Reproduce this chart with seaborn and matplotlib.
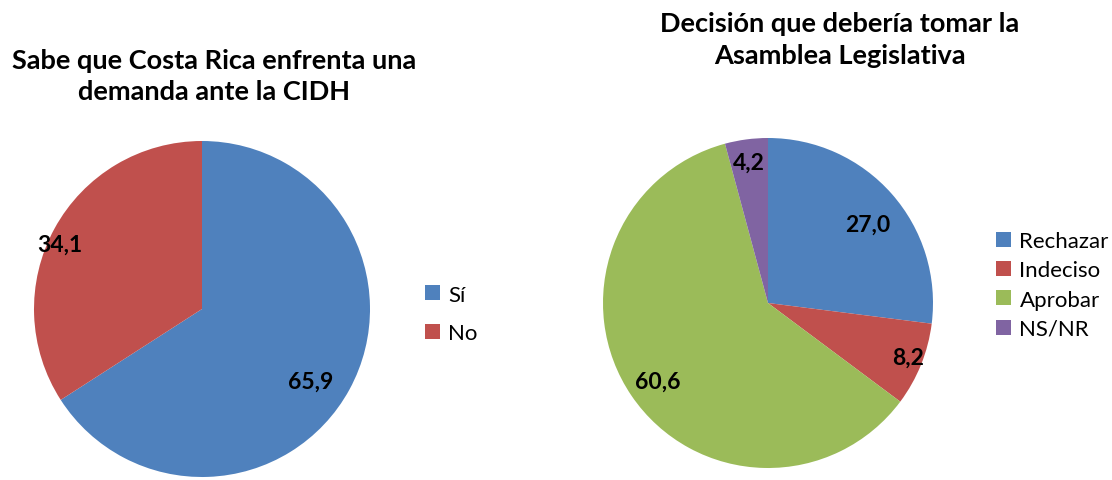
import numpy as np
import seaborn as sns
import matplotlib.pyplot as plt

# Data
left_title = 'Sabe que Costa Rica enfrenta una\ndemanda ante la CIDH'
left_labels = ['Sí', 'No']
left_values = [65.9, 34.1]

right_title = 'Decisión que debería tomar la\nAsamblea Legislativa'
right_labels = ['Rechazar', 'Indeciso', 'Aprobar', 'NS/NR']
right_values = [27.0, 8.2, 60.6, 4.2]

sns.set_theme(style='white')
plt.rcParams['font.family'] = ['Lato', 'DejaVu Sans']
plt.rcParams['text.color'] = 'black'

palette = ['#4F81BD', '#C0504D', '#9BBB59', '#8064A2']

W, H = 1112, 481
fig = plt.figure(figsize=(W / 100, H / 100), dpi=100)


def pie_axes(cx, cy, r):
    # axes placed in pixel terms so the pie lands where it should
    return fig.add_axes([(cx - r) / W, (H - cy - r) / H, 2 * r / W, 2 * r / H])


def draw_pie(ax, values, colors, label_dist, label_shift):
    wedges, _ = ax.pie(values, colors=colors, startangle=90, counterclock=False,
                       radius=1, wedgeprops=dict(linewidth=0))
    for w, v, d, s in zip(wedges, values, label_dist, label_shift):
        mid = np.deg2rad((w.theta1 + w.theta2) / 2 + s)
        ax.text(d * np.cos(mid), d * np.sin(mid), f'{v:.1f}'.replace('.', ','),
                ha='center', va='center', fontsize=16.5, fontweight='bold', color='black')
    ax.set_xlim(-1, 1)
    ax.set_ylim(-1, 1)
    ax.set_aspect('equal')
    ax.axis('off')
    return wedges


# Left pie
ax1 = pie_axes(202, 310, 168)
w1 = draw_pie(ax1, left_values, palette[:2], [0.78, 0.93], [-5, 4])
fig.text(214 / W, 1 - 77 / H, left_title, ha='center', va='center',
         fontsize=19.5, fontweight='bold', linespacing=1.35)
fig.legend(w1, left_labels, loc='center left', bbox_to_anchor=(414 / W, 1 - 315 / H),
           frameon=False, fontsize=16, handlelength=0.65, handleheight=0.65,
           handletextpad=0.4, labelspacing=0.85, borderpad=0)

# Right pie
ax2 = pie_axes(768, 304, 165)
w2 = draw_pie(ax2, right_values, palette, [0.77, 0.91, 0.82, 0.86], [-3, 1, 1, 0])
fig.text(840 / W, 1 - 40 / H, right_title, ha='center', va='center',
         fontsize=19.5, fontweight='bold', linespacing=1.35)
fig.legend(w2, right_labels, loc='center left', bbox_to_anchor=(985 / W, 1 - 286 / H),
           frameon=False, fontsize=16, handlelength=0.65, handleheight=0.65,
           handletextpad=0.4, labelspacing=0.42, borderpad=0)

fig.savefig('out.png', dpi=100, facecolor='white')
